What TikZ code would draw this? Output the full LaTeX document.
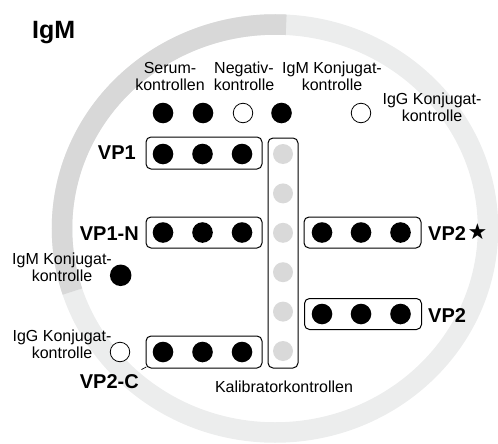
\documentclass[tikz,border=0pt]{standalone}
\usepackage{fontspec}
\setmainfont{Liberation Sans}
\newfontfamily\symfont{DejaVu Sans}
\usetikzlibrary{calc}
\definecolor{ringdark}{RGB}{216,216,216}
\definecolor{ringlight}{RGB}{236,237,237}
\definecolor{calgray}{RGB}{217,217,217}
\begin{document}
\begin{tikzpicture}[x=1pt,y=-1pt,
  lbl/.style={font=\fontsize{16}{16.7}\selectfont, align=center, inner sep=0pt},
  vplbl/.style={font=\fontsize{20}{24}\selectfont\bfseries, inner sep=0pt},
  bdot/.style={circle, fill=black, minimum size=20.6pt, inner sep=0pt},
  odot/.style={circle, draw=black, line width=0.8pt, fill=white, minimum size=19.5pt, inner sep=0pt},
  gdot/.style={circle, fill=calgray, minimum size=20pt, inner sep=0pt},
  wellbox/.style={draw=black, line width=1pt, rounded corners=5pt, minimum width=116pt, minimum height=31pt, inner sep=0pt},
]
\useasboundingbox (0,0) rectangle (498,444);
% ring
\draw[ringlight, line width=20.5pt] (275,228.5) ellipse [x radius=213, y radius=204];
\draw[ringdark, line width=20.5pt] ($(275,228.5)+(-87:213 and 204)$) arc[start angle=-87, end angle=-198, x radius=213, y radius=204];
% title
\node[font=\fontsize{25}{30}\selectfont\bfseries, inner sep=0pt, anchor=base west] (title) at (32,39) {IgM};
% top labels
\node[lbl] (serum) at (170,76.2) {Serum-\\kontrollen};
\node[lbl] (neg) at (244,76.2) {Negativ-\\kontrolle};
\node[lbl] (igmtop) at (332,76.2) {IgM Konjugat-\\kontrolle};
\node[lbl] (iggtop) at (432,107) {IgG Konjugat-\\kontrolle};
% top row dots
\node[bdot] (s1) at (163,113) {};
\node[bdot] (s2) at (203,113) {};
\node[odot] (n1) at (243,113) {};
\node[bdot] (m1) at (281.5,113) {};
\node[odot] (g1) at (361,113) {};
% boxes
\node[wellbox, minimum height=32pt] (vp1box) at (204,153) {};
\node[wellbox] (vp1nbox) at (204,232.5) {};
\node[wellbox, minimum width=117pt] (vp2sbox) at (362.5,232.5) {};
\node[wellbox, minimum width=117pt] (vp2box) at (363,314) {};
\node[wellbox, minimum height=32pt] (vp2cbox) at (204,352) {};
\node[draw=black, line width=1pt, rounded corners=5pt, minimum width=30pt, minimum height=230pt, inner sep=0pt] (calbox) at (283,253) {};
% dots in boxes
\foreach \x [count=\i] in {163,202.5,242}{
  \node[bdot] (vp1d\i) at (\x,154) {};
  \node[bdot] (vp1nd\i) at (\x,232.5) {};
  \node[bdot] (vp2cd\i) at (\x,352) {};
}
\foreach \x [count=\i] in {322,361,400.5}{
  \node[bdot] (vp2sd\i) at (\x,232.5) {};
  \node[bdot] (vp2d\i) at (\x,314) {};
}
\foreach \y [count=\i] in {154,193.4,232.8,272.2,311.6,351}{
  \node[gdot] (cal\i) at (283,\y) {};
}
% side labels
\node[vplbl, anchor=base east] (vp1) at (136,159.3) {VP1};
\node[vplbl, anchor=base east] (vp1n) at (139,240.3) {VP1-N};
\node[vplbl, anchor=base west] (vp2s) at (428,240.3) {VP2\hspace{1.5pt}\raisebox{0.5pt}{\symfont\mdseries\fontsize{22}{22}\selectfont ★}};
\node[vplbl, anchor=base west] (vp2) at (428,322) {VP2};
\node[vplbl, anchor=base east] (vp2c) at (139,388.7) {VP2-C};
% left controls
\node[lbl] (igmleft) at (62,267.5) {IgM Konjugat-\\kontrolle};
\node[bdot, minimum size=21.5pt] (m2) at (120.7,275.3) {};
\node[lbl] (iggleft) at (62,344) {IgG Konjugat-\\kontrolle};
\node[odot] (g2) at (120,352) {};
% calibrator label
\node[font=\fontsize{16}{16.7}\selectfont, inner sep=0pt, anchor=base] (callbl) at (284,392) {Kalibratorkontrollen};
% leader
\draw[line width=0.7pt] ([xshift=2.5pt,yshift=5pt]vp2c.north east) -- ([xshift=0.7pt,yshift=1.5pt]vp2cbox.south west);
\end{tikzpicture}
\end{document}
